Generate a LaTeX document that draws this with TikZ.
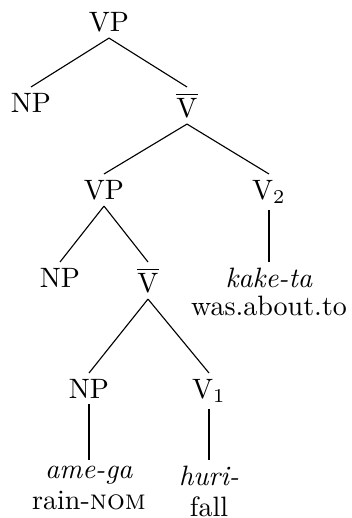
\documentclass[tikz,border=0pt]{standalone}
\usepackage{amsmath}
\usepackage{tikz}

\begin{document}
\begin{tikzpicture}[x=0.357pt, y=-0.357pt]

  \tikzset{cat/.style={anchor=north, inner sep=2pt}}
  \tikzset{leaf/.style={cat, align=center}}
  \def \vbar {$\overline{\mathrm{V}}$}

  \useasboundingbox (0,0) rectangle (352,518);

  \node[cat] (vp) at (109,6) {VP};
  \node[cat] (np) at (31,87) {NP};
  \node[cat] (vbar) at (187,87) {\vbar};
  \node[cat] (vpb) at (104,174) {VP};
  \node[cat] (vtwo) at (269,174) {V$_2$};
  \node[cat] (npb) at (60,262) {NP};
  \node[cat] (vbarb) at (148,262) {\vbar};
  \node[leaf] (kaketa) at (269,262) {\textit{kake-ta}\\[-2.2pt]was.about.to};
  \node[cat] (npc) at (89,373) {NP};
  \node[cat] (vone) at (209,373) {V$_1$};
  \node[leaf] (amega) at (89,460) {\textit{ame-ga}\\[-1pt]rain-\textsc{nom}};
  \node[leaf] (huri) at (209,460) {\textit{huri-}\\[-1pt]fall};

  \foreach \a/\b in {vp/np, vp/vbar, vbar/vpb, vbar/vtwo, vpb/npb, vpb/vbarb,
                     vtwo/kaketa, vbarb/npc, vbarb/vone, npc/amega, vone/huri}
    \draw (\a.south) -- (\b.north);
\end{tikzpicture}
\end{document}
